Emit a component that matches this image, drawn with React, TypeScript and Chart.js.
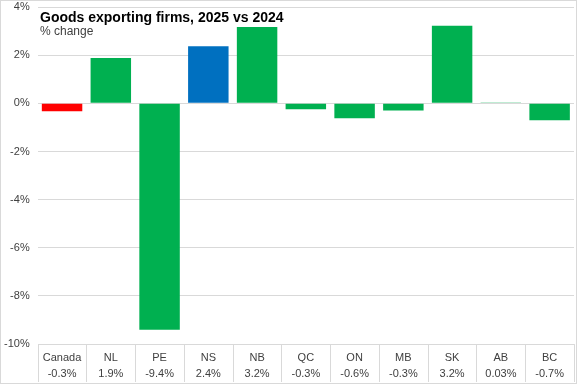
import React, { useEffect, useRef } from "react";
import { Chart, registerables } from "chart.js";

Chart.register(...registerables);

const categories = ["Canada", "NL", "PE", "NS", "NB", "QC", "ON", "MB", "SK", "AB", "BC"];
const values = [-0.33, 1.88, -9.4, 2.37, 3.17, -0.25, -0.62, -0.3, 3.22, 0.03, -0.7];
const valueLabels = ["-0.3%", "1.9%", "-9.4%", "2.4%", "3.2%", "-0.3%", "-0.6%", "-0.3%", "3.2%", "0.03%", "-0.7%"];
const yTicks = [-10, -8, -6, -4, -2, 0, 2, 4];

const titleText = "Goods exporting firms, 2025 vs 2024";
const subtitleText = "% change";

const GREEN = "#00B050";
const RED = "#FF0000";
const BLUE = "#0070C0";
const GRID = "#D9D9D9";
const FONT = "'Liberation Sans', Arial, sans-serif";

function colorFor(cat: string) {
  if (cat === "Canada") return RED;
  if (cat === "NS") return BLUE;
  return GREEN;
}

const decorPlugin = {
  id: "decor",
  afterDraw(chart: any) {
    const { ctx, chartArea, scales, width, height } = chart;
    const x = scales.x;
    ctx.save();
    ctx.strokeStyle = GRID;
    ctx.lineWidth = 1;
    const half = (x.getPixelForValue(1) - x.getPixelForValue(0)) / 2;
    for (let i = 0; i <= categories.length; i++) {
      const px = Math.round(x.getPixelForValue(i) - half) + 0.5;
      ctx.beginPath();
      ctx.moveTo(px, chartArea.bottom);
      ctx.lineTo(px, height - 2);
      ctx.stroke();
    }
    ctx.strokeRect(0.5, 0.5, width - 1, height - 1);
    ctx.fillStyle = "#000000";
    ctx.textBaseline = "alphabetic";
    ctx.textAlign = "left";
    ctx.font = `bold 14px ${FONT}`;
    ctx.fillText(titleText, 40, 22);
    ctx.fillStyle = "#404040";
    ctx.font = `12px ${FONT}`;
    ctx.fillText(subtitleText, 40, 35);
    ctx.restore();
  },
};

export default function App() {
  const ref = useRef<HTMLCanvasElement>(null);
  useEffect(() => {
    if (!ref.current) return;
    const chart = new Chart(ref.current, {
      type: "bar",
      data: {
        labels: categories.map((c, i) => [c, valueLabels[i]]),
        datasets: [
          {
            data: values,
            backgroundColor: categories.map(colorFor),
            barPercentage: 0.83,
            categoryPercentage: 1,
          },
        ],
      },
      options: {
        animation: false,
        responsive: false,
        maintainAspectRatio: false,
        layout: { padding: { left: -4, right: 3, top: 7, bottom: -4 } },
        plugins: { legend: { display: false }, tooltip: { enabled: false } },
        scales: {
          x: {
            grid: { display: false, drawTicks: false },
            border: { display: false },
            ticks: {
              color: "#404040",
              font: { family: FONT, size: 11, lineHeight: 1.45 },
              maxRotation: 0,
              autoSkip: false,
              padding: 6,
            },
          },
          y: {
            min: -10,
            max: 4,
            afterBuildTicks: (s: any) => {
              s.ticks = yTicks.map((v) => ({ value: v }));
            },
            afterFit: (s: any) => {
              s.paddingTop = 0;
              s.paddingBottom = 0;
            },
            grid: { color: GRID, drawTicks: false },
            border: { display: false },
            ticks: {
              color: "#404040",
              font: { family: FONT, size: 11 },
              padding: 8,
              callback: (v: any) => `${v}%`,
            },
          },
        },
      },
      plugins: [decorPlugin],
    });
    return () => chart.destroy();
  }, []);
  return (
    <div style={{ position: "fixed", left: 0, top: 0, width: 577, height: 384, background: "#fff" }}>
      <canvas ref={ref} width={577} height={384} style={{ width: 577, height: 384 }} />
    </div>
  );
}
